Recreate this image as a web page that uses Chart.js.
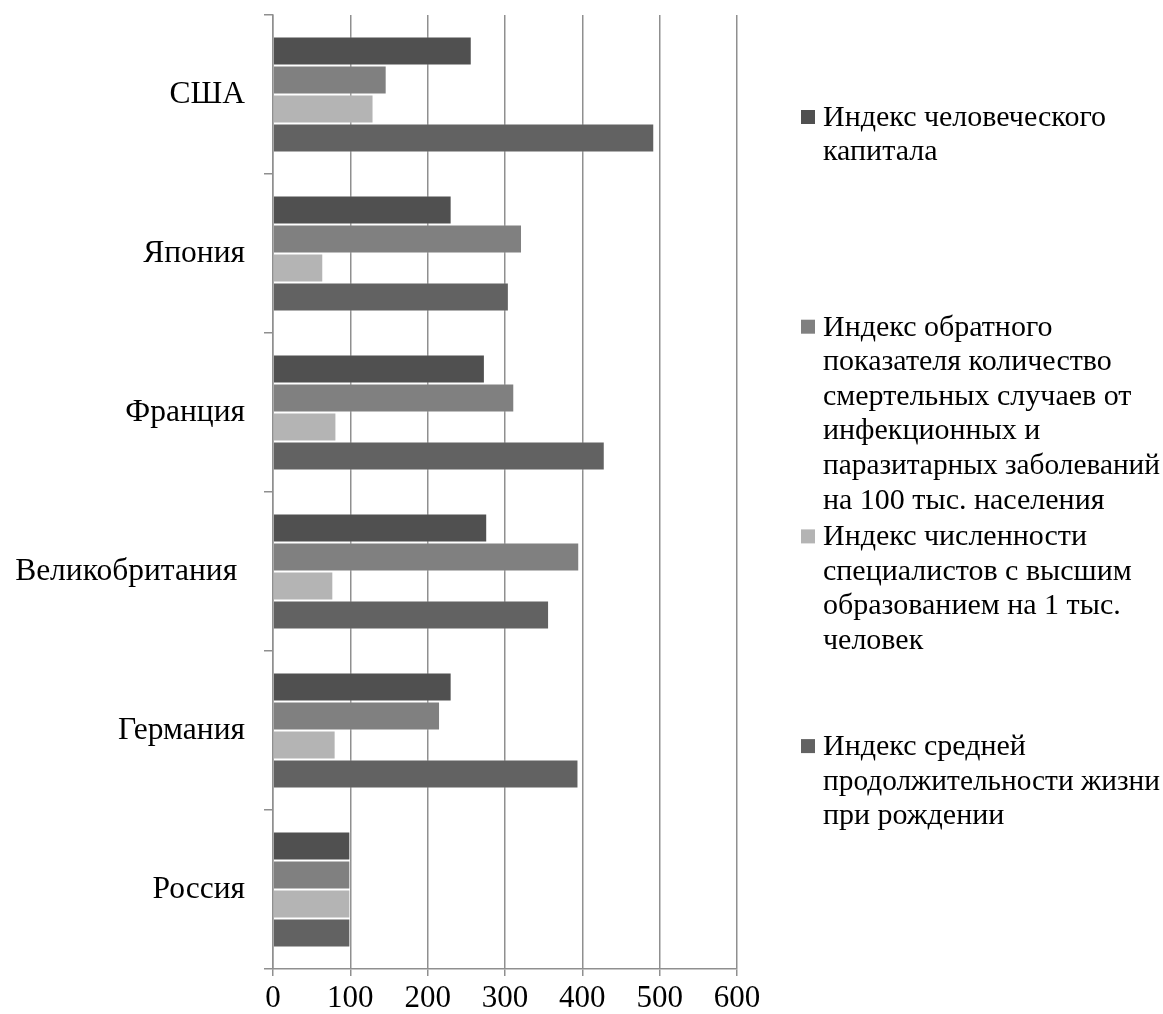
<!DOCTYPE html>
<html>
<head>
<meta charset="utf-8">
<script src="https://cdn.jsdelivr.net/npm/chart.js@4.4.0/dist/chart.umd.min.js"></script>
<style>
  html, body { margin: 0; background: #fff; }
  canvas { display: block; }
</style>
</head>
<body>
<canvas id="chartIndeksNegara" width="1163" height="1014"></canvas>
<script>
const countries = ['США', 'Япония', 'Франция', 'Великобритания ', 'Германия', 'Россия'];
const humanCapital = [257, 231, 274, 277, 231, 100];
const inverseMortality = [147, 322, 312, 396, 216, 100];
const specialists = [130, 65, 82, 78, 81, 100];
const lifeExpectancy = [493, 305, 429, 357, 395, 100];
const xTicks = [0, 100, 200, 300, 400, 500, 600];

// legend names, already split into lines like in the original
const seriesNames = [
  ['Индекс человеческого', 'капитала'],
  ['Индекс обратного', 'показателя количество', 'смертельных случаев от', 'инфекционных и', 'паразитарных заболеваний', 'на 100 тыс. населения'],
  ['Индекс численности', 'специалистов с высшим', 'образованием на 1 тыс.', 'человек'],
  ['Индекс средней', 'продолжительности жизни', 'при рождении'],
];
const seriesColors = ['#505050', '#808080', '#b4b4b4', '#626262'];
const seriesValues = [humanCapital, inverseMortality, specialists, lifeExpectancy];

const fontFamily = '"Liberation Serif", "Times New Roman", serif';
const gridColor = '#8f8f8f';

Chart.defaults.font.family = fontFamily;
Chart.defaults.color = '#000';

// legend drawn on the right, one slot per series
const sideLegend = {
  id: 'sideLegend',
  afterDraw(chart) {
    const ctx = chart.ctx;
    ctx.save();
    ctx.font = '30px ' + fontFamily;
    ctx.textBaseline = 'middle';
    ctx.textAlign = 'left';
    chart.data.datasets.forEach((ds, i) => {
      const y0 = 118 + i * 209.7;
      ctx.fillStyle = ds.backgroundColor;
      ctx.fillRect(801, y0 - 8, 14, 14);
      ctx.fillStyle = '#000';
      ds.legendLines.forEach((line, j) => {
        ctx.fillText(line, 823, y0 + j * 34.6, 337);
      });
    });
    ctx.restore();
  }
};

const ctx = document.getElementById('chartIndeksNegara');
const myBarChart = new Chart(ctx, {
  type: 'bar',
  data: {
    labels: countries,
    datasets: seriesValues.map((vals, i) => ({
      label: seriesNames[i].join(' '),
      legendLines: seriesNames[i],
      data: vals,
      backgroundColor: seriesColors[i],
      borderColor: 'rgba(255,255,255,0.35)',
      borderWidth: 1,
      categoryPercentage: 0.728,
      barPercentage: 1.0,
    })),
  },
  options: {
    indexAxis: 'y',
    responsive: false,
    animation: false,
    layout: {
      padding: { top: 15, right: 426, bottom: 0, left: 0 },
    },
    scales: {
      x: {
        min: 0,
        max: 600,
        afterBuildTicks: (scale) => {
          scale.ticks = xTicks.map(v => ({ value: v }));
        },
        afterFit: (scale) => {
          scale.height = 45;
        },
        grid: {
          color: gridColor,
          lineWidth: 1.5,
          tickLength: 7,
        },
        border: { color: gridColor, width: 1.5 },
        ticks: {
          font: { size: 31 },
          color: '#000',
          padding: 4,
        },
      },
      y: {
        afterFit: (scale) => {
          scale.width = 273;
          scale.paddingTop = 0;
          scale.paddingBottom = 0;
        },
        grid: {
          offset: true,
          drawOnChartArea: false,
          color: gridColor,
          lineWidth: 1.5,
          tickLength: 9,
        },
        border: { color: gridColor, width: 1.5 },
        ticks: {
          font: { size: 31.5 },
          color: '#000',
          padding: 19,
        },
      },
    },
    plugins: {
      legend: { display: false },
      tooltip: { enabled: false },
    },
  },
  plugins: [sideLegend],
});
</script>
</body>
</html>
